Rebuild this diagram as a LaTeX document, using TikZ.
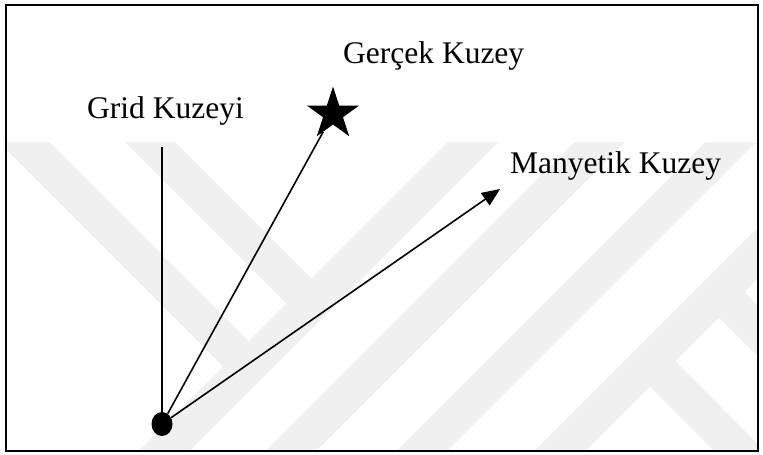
\documentclass[tikz,border=0pt]{standalone}
\usepackage{fontspec}
\setmainfont{Liberation Serif}
\usetikzlibrary{shapes.geometric,arrows.meta}
\definecolor{ink}{HTML}{000000}
\definecolor{wmark}{HTML}{F0F0F0}
\tikzset{
  frame/.style={draw=ink, line width=2pt},
  band/.style={draw=wmark, line width=36pt},
  line/.style={draw=ink, line width=1.6pt},
  dot/.style={ellipse, fill=ink, inner sep=0pt, minimum width=21pt, minimum height=24pt},
  northstar/.style={star, star points=5, star point ratio=2.618, fill=ink, inner sep=0pt, minimum size=55pt},
  lbl/.style={text=ink, font=\fontsize{31.5}{36}\selectfont, inner sep=0pt, anchor=base west}
}

\begin{document}
\begin{tikzpicture}[x=1pt,y=-1pt]
  \useasboundingbox (0,0) rectangle (763,455);

  % faint watermark bands
  \begin{scope}
    \clip (7,142) rectangle (757,450);
    \draw[band] (490,125) -- (140,475);
    \draw[band] (617,125) -- (267,475);
    \draw[band] (748,125) -- (398,475);
    \draw[band] (886,125) -- (536,475);
    \draw[band] (7,125) -- (248,366);
    \draw[band] (133,125) -- (311,303);
    \draw[band] (650,361) -- (780,492);
    \draw[band] (719,292) -- (800,373);
  \end{scope}

  \node[dot] (origin) at (162,424) {};
  \coordinate (gridtop) at (162,147);
  \node[northstar] (truestar) at (333,114) {};
  \coordinate (magtip) at (500,189);

  \draw[line] (origin) -- (gridtop);
  \draw[line] (origin) -- (truestar);
  \draw[line, -{Triangle[length=18pt,width=15pt]}] (origin) -- (magtip);

  \node[lbl] (gridlbl) at (87,118) {Grid Kuzeyi};
  \node[lbl] (truelbl) at (343,63) {Gerçek Kuzey};
  \node[lbl] (maglbl) at (510,173) {Manyetik Kuzey};

  \draw[frame] (6,5) rectangle (758,451);
\end{tikzpicture}
\end{document}
